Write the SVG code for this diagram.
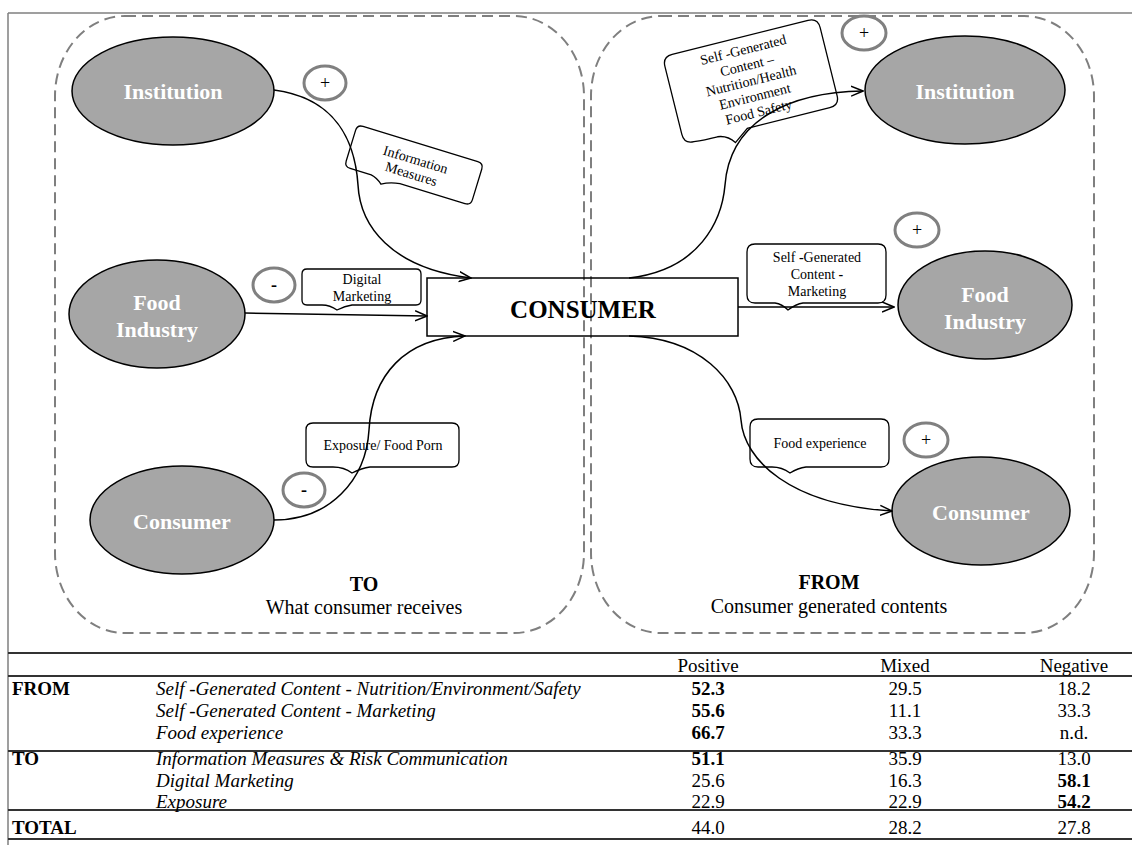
<svg xmlns="http://www.w3.org/2000/svg" width="1132" height="845" viewBox="0 0 1132 845" font-family="Liberation Serif, Times New Roman, serif">
<defs>
<style>
.frame{stroke:#7f7f7f;stroke-width:1.5;fill:none}
.zone{fill:none;stroke:#7f7f7f;stroke-width:2;stroke-dasharray:11 6}
.node{fill:#a6a6a6;stroke:#000;stroke-width:1.5}
.ntext{font-weight:bold;font-size:22px;fill:#fff;text-anchor:middle}
.bubble{fill:#fff;stroke:#000;stroke-width:1.3}
.btext{font-size:14px;fill:#000;text-anchor:middle}
.sign{fill:#fff;stroke:#808080;stroke-width:3}
.stext{font-size:18px;fill:#000;text-anchor:middle}
.conn{fill:none;stroke:#000;stroke-width:1.5}
.cap{font-size:20px;fill:#000;text-anchor:middle}
.tline{stroke:#333;stroke-width:2}
.tt{font-size:19px;fill:#000}
.ti{font-style:italic}
.tb{font-weight:bold}
.tc{text-anchor:middle}
</style>
<marker id="arr" viewBox="0 0 13 12" refX="12" refY="6" markerWidth="13" markerHeight="12" markerUnits="userSpaceOnUse" orient="auto">
<path d="M0,1 L12,6 L0,11" fill="none" stroke="#000" stroke-width="1.5"/>
</marker>
</defs>
<rect width="1132" height="845" fill="#fff"/>
<g id="frame">
<line class="frame" x1="8" y1="13" x2="1132" y2="13"/>
<line class="frame" x1="8" y1="13" x2="8" y2="845"/>
</g>
<g id="zone-to">
<rect class="zone" x="55" y="16" width="529" height="617" rx="70" ry="80"/>
<text class="cap" x="364" y="591" font-weight="bold">TO</text>
<text class="cap" x="364" y="614">What consumer receives</text>
</g>
<g id="zone-from">
<rect class="zone" x="591" y="16" width="503" height="617" rx="70" ry="80"/>
<text class="cap" x="829" y="589" font-weight="bold">FROM</text>
<text class="cap" x="829" y="613">Consumer generated contents</text>
</g>
<g id="consumer-box">
<rect x="427" y="278" width="311" height="58" fill="none" stroke="#000" stroke-width="1.5"/>
<text x="583" y="318" font-weight="bold" font-size="25" text-anchor="middle">CONSUMER</text>
</g>
<g id="institution-left">
<ellipse class="node" cx="173" cy="91" rx="101" ry="54"/>
<text class="ntext" x="173" y="99">Institution</text>
</g>
<g id="food-industry-left">
<ellipse class="node" cx="157" cy="314" rx="88" ry="54"/>
<text class="ntext" x="157" y="310">Food</text>
<text class="ntext" x="157" y="337">Industry</text>
</g>
<g id="consumer-left">
<ellipse class="node" cx="182" cy="520" rx="92" ry="54"/>
<text class="ntext" x="182" y="529">Consumer</text>
</g>
<g id="institution-right">
<ellipse class="node" cx="965" cy="90" rx="100" ry="54"/>
<text class="ntext" x="965" y="99">Institution</text>
</g>
<g id="food-industry-right">
<ellipse class="node" cx="985" cy="305" rx="87" ry="54"/>
<text class="ntext" x="985" y="302">Food</text>
<text class="ntext" x="985" y="329">Industry</text>
</g>
<g id="consumer-right">
<ellipse class="node" cx="981" cy="511" rx="89" ry="54"/>
<text class="ntext" x="981" y="520">Consumer</text>
</g>
<g id="label-information-measures" transform="translate(414,165) rotate(17)">
<path class="bubble" d="M-60,-22 H60 Q66,-22 66,-16 V16 Q66,22 60,22 H-8 Q-18,23 -26,28 Q-32,23 -38,22 H-60 Q-66,22 -66,16 V-16 Q-66,-22 -60,-22 Z"/>
<text class="btext" x="0" y="-1">Information</text>
<text class="btext" x="0" y="14">Measures</text>
</g>
<g id="label-digital-marketing">
<path class="bubble" d="M307,269 H416 Q421,269 421,274 V300 Q421,305 416,305 H352 Q345,306 337,310 Q330,305 322,305 H307 Q302,305 302,300 V274 Q302,269 307,269 Z"/>
<text class="btext" x="362" y="284">Digital</text>
<text class="btext" x="362" y="301">Marketing</text>
</g>
<g id="label-exposure">
<path class="bubble" d="M313,423 H452 Q459,423 459,430 V460 Q459,467 452,467 H370 Q362,468 352,473 Q344,467 333,467 H313 Q306,467 306,460 V430 Q306,423 313,423 Z"/>
<text class="btext" x="383" y="450">Exposure/ Food Porn</text>
</g>
<g id="label-sgc-nutrition" transform="translate(751,81) rotate(-14)">
<path class="bubble" d="M-70,-45 H70 Q80,-45 80,-35 V35 Q80,45 70,45 H-15 L-30,56 Q-36,47 -46,46 Q-60,46 -70,45 Q-80,45 -80,35 V-35 Q-80,-45 -70,-45 Z"/>
<text class="btext" x="0" y="-27.5">Self -Generated</text>
<text class="btext" x="0" y="-11.5">Content –</text>
<text class="btext" x="0" y="4.5">Nutrition/Health</text>
<text class="btext" x="0" y="20.5">Environment</text>
<text class="btext" x="0" y="36.5">Food Safety</text>
</g>
<g id="label-sgc-marketing">
<path class="bubble" d="M755,244 H878 Q886,244 886,252 V295 Q886,303 878,303 H803 Q796,304 788,310 Q782,304 775,303 H755 Q747,303 747,295 V252 Q747,244 755,244 Z"/>
<text class="btext" x="817" y="262">Self <tspan font-weight="bold">-</tspan>Generated</text>
<text class="btext" x="817" y="279">Content <tspan font-weight="bold">-</tspan></text>
<text class="btext" x="817" y="296">Marketing</text>
</g>
<g id="label-food-experience">
<path class="bubble" d="M758,419 H881 Q889,419 889,427 V459 Q889,467 881,467 H806 Q798,468 790,473 Q782,467 772,467 H758 Q750,467 750,459 V427 Q750,419 758,419 Z"/>
<text class="btext" x="820" y="448">Food experience</text>
</g>
<g id="signs">
<ellipse class="sign" cx="325" cy="83" rx="21" ry="17"/>
<text class="stext" x="325" y="89">+</text>
<ellipse class="sign" cx="274" cy="285" rx="21" ry="17"/>
<text class="stext" x="274" y="291" font-weight="bold">-</text>
<ellipse class="sign" cx="304" cy="490" rx="21" ry="17"/>
<text class="stext" x="304" y="496" font-weight="bold">-</text>
<ellipse class="sign" cx="864" cy="33" rx="22" ry="17"/>
<text class="stext" x="864" y="39">+</text>
<ellipse class="sign" cx="917" cy="230" rx="22" ry="17"/>
<text class="stext" x="917" y="236">+</text>
<ellipse class="sign" cx="926" cy="440" rx="22" ry="17"/>
<text class="stext" x="926" y="446">+</text>
</g>
<g id="connectors">
<path class="conn" marker-end="url(#arr)" d="M274,90 C335,98 355,140 358,185 C360,225 390,268 471,278"/>
<path class="conn" marker-end="url(#arr)" d="M245,313 L427,316"/>
<path class="conn" marker-end="url(#arr)" d="M274,520 C330,520 366,480 369,430 C372,375 405,338 465,336"/>
<path class="conn" marker-end="url(#arr)" d="M629,278 C700,270 722,220 725,185 C730,120 790,92 863,91"/>
<path class="conn" marker-end="url(#arr)" d="M738,307 L894,307"/>
<path class="conn" marker-end="url(#arr)" d="M629,336 C700,338 738,380 741,420 C744,460 790,505 892,511"/>
</g>
<g id="table">
<line class="tline" x1="8" y1="653" x2="1132" y2="653"/>
<line class="tline" x1="8" y1="676" x2="1132" y2="676"/>
<line class="tline" x1="8" y1="751" x2="1132" y2="751" stroke-width="1.5"/>
<line class="tline" x1="8" y1="810" x2="1132" y2="810"/>
<line class="tline" x1="8" y1="839" x2="1132" y2="839"/>
<text class="tt tc" x="708" y="672">Positive</text>
<text class="tt tc" x="905" y="672">Mixed</text>
<text class="tt tc" x="1074" y="672">Negative</text>
<text class="tt tb" x="12" y="695">FROM</text>
<text class="tt ti" x="156" y="695">Self -Generated Content - Nutrition/Environment/Safety</text>
<text class="tt tc tb" x="708" y="695">52.3</text>
<text class="tt tc" x="905" y="695">29.5</text>
<text class="tt tc" x="1074" y="695">18.2</text>
<text class="tt ti" x="156" y="717">Self -Generated Content - Marketing</text>
<text class="tt tc tb" x="708" y="717">55.6</text>
<text class="tt tc" x="905" y="717">11.1</text>
<text class="tt tc" x="1074" y="717">33.3</text>
<text class="tt ti" x="156" y="739">Food experience</text>
<text class="tt tc tb" x="708" y="739">66.7</text>
<text class="tt tc" x="905" y="739">33.3</text>
<text class="tt tc" x="1074" y="739">n.d.</text>
<text class="tt tb" x="12" y="765">TO</text>
<text class="tt ti" x="156" y="765">Information Measures &amp; Risk Communication</text>
<text class="tt tc tb" x="708" y="765">51.1</text>
<text class="tt tc" x="905" y="765">35.9</text>
<text class="tt tc" x="1074" y="765">13.0</text>
<text class="tt ti" x="156" y="787">Digital Marketing</text>
<text class="tt tc" x="708" y="787">25.6</text>
<text class="tt tc" x="905" y="787">16.3</text>
<text class="tt tc tb" x="1074" y="787">58.1</text>
<text class="tt ti" x="156" y="808">Exposure</text>
<text class="tt tc" x="708" y="808">22.9</text>
<text class="tt tc" x="905" y="808">22.9</text>
<text class="tt tc tb" x="1074" y="808">54.2</text>
<text class="tt tb" x="12" y="834">TOTAL</text>
<text class="tt tc" x="708" y="834">44.0</text>
<text class="tt tc" x="905" y="834">28.2</text>
<text class="tt tc" x="1074" y="834">27.8</text>
</g>
</svg>
